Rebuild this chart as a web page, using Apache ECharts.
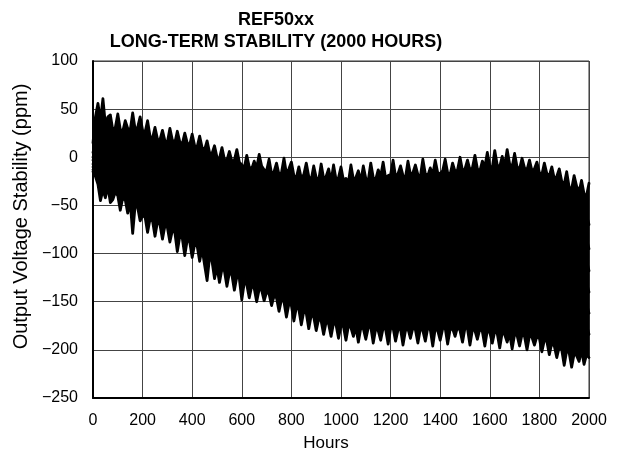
<!DOCTYPE html>
<html>
<head>
<meta charset="utf-8">
<script src="https://cdn.jsdelivr.net/npm/echarts@6/dist/echarts.min.js"></script>
<style>
html,body{margin:0;padding:0;background:#fff;}
#chart{width:621px;height:460px;}
</style>
</head>
<body>
<div id="chart"></div>
<script>
// Hours: interior units read every 20 h, the two outermost units every 10 h
var hours20 = [];
for (var i = 0; i <= 2000; i += 20) hours20.push(i);
var hours10 = [];
for (var j = 0; j <= 2000; j += 10) hours10.push(j);

var xTicks = [0,200,400,600,800,1000,1200,1400,1600,1800,2000];
var yTicks = [100,50,0,-50,-100,-150,-200,-250];

// outermost (upper) unit, every 10 h
var unitTop = [15,42,56,38,61,34,42,44,28,31, 45,29,27,38,30,28,46,29,31,42, 28,26,38,22,20,31,19,18,28,17, 16,30,18,15,27,16,14,25,15,13, 24,12,11,22,10,8,17,5,4,12, 0,-1,10,-2,-3,6,-4,-3,8,-5, -8,-11,2,-10,-12,-4,-11,3,-9,-13, -14,-2,-17,-15,-6,-18,-16,-1,-17,-12, -5,-19,-21,-10,-22,-18,-6,-20,-23,-9, -21,-24,-7,-22,-20,-12,-25,-8,-23,-21, -10,-24,-22,-26,-8,-23,-21,-14,-25,-9, -22,-24,-6,-21,-23,-13,-20,-5,-22,-19, -18,-3,-20,-17,-9,-19,-21,-4,-18,-16, -8,-18,-20,-2,-17,-19,-11,-18,-3,-16, -17,-14,-2,-16,-18,-6,-15,-13,0,-14, -12,-3,-13,-11,2,-12,-14,-4,-10,5, -9,-11,7,-8,-10,1,-9,8,-7,-10, 4,-10,-12,-1,-11,-13,-3,-14,-12,-5, -16,-18,-6,-17,-19,-10,-22,-20,-12,-25, -28,-15,-31,-33,-19,-30,-36,-24,-38,-40, -27];
// outermost (lower) unit, every 10 h
var unitBottom = [-15,-20,-28,-45,-34,-42,-30,-47,-44,-36, -40,-55,-42,-44,-58,-46,-79,-50,-52,-66, -60,-62,-78,-64,-66,-82,-67,-70,-85,-71, -73,-88,-76,-78,-98,-82,-84,-102,-86,-88, -104,-90,-92,-108,-95,-112,-128,-104,-108,-126, -114,-130,-116,-118,-134,-120,-122,-138,-124,-126, -148,-130,-132,-146,-134,-136,-150,-137,-138,-149, -140,-142,-154,-144,-146,-160,-148,-150,-166,-152, -154,-170,-156,-158,-174,-160,-162,-178,-164,-166, -180,-168,-170,-184,-171,-173,-186,-172,-174,-188, -175,-176,-190,-175,-177,-186,-176,-192,-177,-178, -189,-177,-176,-193,-178,-180,-190,-177,-179,-194, -178,-177,-191,-179,-178,-195,-180,-178,-188,-177, -179,-193,-178,-180,-191,-177,-179,-196,-178,-180, -190,-178,-177,-194,-179,-178,-186,-176,-180,-192, -177,-178,-195,-179,-180,-189,-178,-181,-196,-180, -182,-193,-181,-183,-198,-182,-184,-192,-183,-199, -184,-185,-196,-184,-186,-200,-185,-187,-195,-186, -188,-202,-190,-191,-205,-193,-196,-208,-197,-200, -216,-201,-203,-218,-204,-206,-212,-200,-215,-205, -208];

// interior units, every 20 h
var unitB = [5,28,22,40,18, 30,12,28,8,25, 4,20,2,15,-6, 12,-8,10,-12,6, -14,3,-18,0,-22, -6,-26,-10,-30,-12, -34,-15,-38,-20,-40, -22,-43,-24,-45,-27, -46,-28,-48,-30,-50, -31,-52,-33,-55,-34, -54,-33,-56,-35,-53, -32,-55,-34,-52,-30, -50,-29,-51,-31,-49, -30,-52,-28,-50,-31, -51,-29,-48,-27,-46, -24,-45,-23,-43,-22, -41,-21,-43,-23,-45, -24,-46,-27,-50,-33, -55,-35,-57,-38,-61, -42,-64,-45,-68,-50, -70];
var unitC = [0,18,5,24,3, 20,-1,17,-5,14, -8,10,-12,6,-17, 0,-22,-3,-25,-8, -28,-10,-31,-16,-36, -22,-42,-28,-47,-32, -52,-34,-55,-37,-58, -40,-60,-42,-62,-45, -66,-47,-68,-50,-71, -52,-73,-54,-75,-55, -76,-55,-77,-56,-75, -55,-77,-56,-74,-53, -73,-52,-74,-53,-72, -51,-73,-52,-72,-53, -74,-52,-71,-50,-69, -47,-68,-46,-66,-45, -66,-46,-68,-48,-70, -48,-70,-52,-74,-57, -79,-58,-82,-62,-86, -66,-88,-70,-93,-75, -95];
var unitD = [-3,10,-8,12,-9, 9,-11,5,-14,2, -20,-4,-24,-9,-28, -15,-34,-19,-37,-24, -42,-29,-47,-33,-52, -40,-59,-45,-63,-49, -70,-52,-72,-55,-75, -58,-76,-60,-80,-64, -86,-67,-88,-70,-92, -73,-94,-76,-96,-78, -97,-77,-98,-78,-96, -77,-99,-78,-96,-76, -97,-75,-96,-76,-95, -74,-96,-75,-95,-76, -97,-75,-94,-72,-92, -70,-91,-71,-92,-71, -93,-70,-93,-72,-95, -73,-96,-76,-99,-80, -103,-82,-106,-86,-110, -90,-113,-94,-115,-97, -118];
var unitE = [-7,4,-18,2,-20, -2,-22,-8,-28,-13, -35,-18,-40,-24,-45, -30,-50,-35,-53,-38, -58,-42,-62,-48,-68, -55,-75,-62,-82,-67, -88,-70,-90,-73,-92, -76,-95,-79,-99,-84, -105,-87,-108,-92,-113, -95,-116,-97,-118,-99, -117,-98,-119,-100,-120, -99,-121,-100,-119,-98, -120,-97,-118,-98,-119, -97,-119,-98,-118,-99, -120,-98,-117,-96,-115, -93,-114,-94,-116,-95, -117,-95,-118,-97,-119, -97,-120,-100,-124,-104, -127,-106,-130,-112,-137, -117,-139,-120,-141,-121, -140];
var unitF = [-10,-2,-25,-8,-30, -12,-33,-18,-38,-24, -48,-30,-52,-37,-58, -44,-64,-49,-68,-53, -73,-58,-80,-65,-86, -72,-92,-80,-100,-86, -106,-88,-108,-92,-110, -94,-112,-98,-118,-103, -125,-108,-130,-114,-135, -117,-137,-120,-139,-121, -140,-120,-141,-122,-142, -121,-143,-122,-141,-121, -143,-121,-142,-122,-143, -120,-142,-121,-141,-122, -143,-121,-140,-119,-138, -117,-137,-119,-140,-120, -142,-120,-143,-122,-144, -122,-144,-125,-147,-128, -150,-131,-153,-137,-160, -142,-163,-143,-164,-142, -162];
var unitG = [-13,-8,-32,-18,-40, -22,-44,-30,-50,-38, -62,-44,-66,-50,-72, -58,-78,-63,-82,-66, -88,-72,-95,-80,-104, -88,-108,-97,-118,-103, -125,-106,-126,-110,-129, -111,-130,-117,-138,-124, -145,-128,-150,-135,-156, -138,-158,-141,-160,-142, -162,-141,-163,-143,-164, -144,-165,-145,-164,-144, -166,-144,-165,-145,-166, -143,-164,-142,-163,-144, -165,-144,-163,-141,-161, -140,-160,-142,-164,-145, -166,-144,-167,-147,-169, -147,-168,-150,-171,-153, -174,-156,-178,-162,-186, -168,-188,-166,-186,-164, -184];

var interiorUnits = [unitB, unitC, unitD, unitE, unitF, unitG];

var FONT = '"Liberation Sans", Arial, sans-serif';
function fmt(list) {
  return function (v) { return list.indexOf(v) >= 0 ? String(v).replace('-', '\u2212') : ''; };
}
function lineSeries(name, hrs, vals) {
  return {
    type: 'line',
    name: name,
    data: hrs.map(function (h, i) { return [h, vals[i]]; }),
    showSymbol: false,
    symbol: 'none',
    lineStyle: { color: '#000', width: 2.8, join: 'round', cap: 'round' },
    emphasis: { disabled: true },
    z: 3
  };
}

var series = [{
  // the region between the outermost units, densely overwritten by the traces
  type: 'custom',
  name: 'overlap',
  data: [[0, 0]],
  silent: true,
  z: 2,
  renderItem: function (params, api) {
    var pts = [];
    for (var i = 0; i < hours10.length; i++) pts.push(api.coord([hours10[i], unitTop[i]]));
    for (var k = hours10.length - 1; k >= 0; k--) pts.push(api.coord([hours10[k], unitBottom[k]]));
    return { type: 'polygon', shape: { points: pts }, style: { fill: '#000', stroke: '#000', lineWidth: 1 } };
  }
},
  lineSeries('Unit 1', hours10, unitTop),
  lineSeries('Unit 8', hours10, unitBottom)
].concat(interiorUnits.map(function (vals, k) {
  return lineSeries('Unit ' + (k + 2), hours20, vals);
}));

var chart = echarts.init(document.getElementById('chart'), null, { renderer: 'canvas' });
chart.setOption({
  animation: false,
  backgroundColor: '#fff',
  title: {
    text: 'REF50xx\nLONG-TERM STABILITY (2000 HOURS)',
    left: 271,
    top: 4,
    textAlign: 'center',
    textStyle: { fontFamily: FONT, fontSize: 18, fontWeight: 'bold', color: '#000', lineHeight: 22 }
  },
  grid: {
    left: 93, right: 32, top: 61, bottom: 62,
    show: true, borderColor: '#333', borderWidth: 1, backgroundColor: 'transparent'
  },
  xAxis: {
    type: 'value',
    min: 0, max: 2000, interval: 200,
    name: 'Hours',
    nameLocation: 'middle',
    nameGap: 37,
    nameTextStyle: { fontFamily: FONT, fontSize: 17, color: '#000', padding: [0, 30, 0, 0] },
    axisLine: { show: true, onZero: false, lineStyle: { color: '#000', width: 2 } },
    axisTick: { show: false },
    axisLabel: { fontFamily: FONT, fontSize: 16, color: '#000', margin: 15, formatter: fmt(xTicks) },
    splitLine: { show: true, lineStyle: { color: '#444', width: 1 } }
  },
  yAxis: {
    type: 'value',
    min: -250, max: 100, interval: 50,
    name: 'Output Voltage Stability (ppm)',
    nameLocation: 'middle',
    nameGap: 58,
    nameTextStyle: { fontFamily: FONT, fontSize: 20, color: '#000', padding: [0, 0, 0, 26] },
    axisLine: { show: true, onZero: false, lineStyle: { color: '#000', width: 2 } },
    axisTick: { show: false },
    axisLabel: { fontFamily: FONT, fontSize: 16, color: '#000', margin: 15, formatter: fmt(yTicks) },
    splitLine: { show: true, lineStyle: { color: '#444', width: 1 } }
  },
  series: series
});
</script>
</body>
</html>
